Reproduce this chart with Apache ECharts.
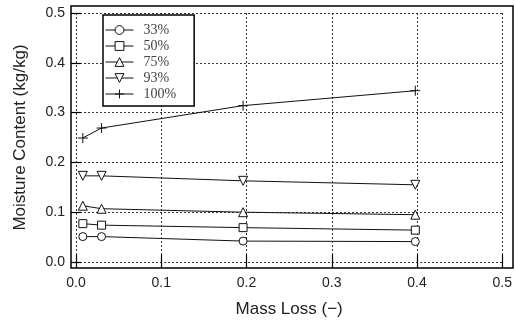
<!DOCTYPE html>
<html>
<head>
<meta charset="utf-8">
<script src="https://cdn.jsdelivr.net/npm/echarts@6/dist/echarts.min.js"></script>
<style>
  html, body { margin: 0; padding: 0; background: #fff; }
  #chart { width: 515px; height: 325px; }
</style>
</head>
<body>
<div id="chart"></div>
<script>
// values
var massLoss = [0.008, 0.030, 0.196, 0.398];
var names = ['33%', '50%', '75%', '93%', '100%'];
var rh33 = [0.051, 0.051, 0.042, 0.041];
var rh50 = [0.077, 0.074, 0.069, 0.064];
var rh75 = [0.113, 0.107, 0.100, 0.095];
var rh93 = [0.173, 0.173, 0.163, 0.155];
var rh100 = [0.249, 0.269, 0.314, 0.344];
var xTicks = [0, 0.5, 0.1];
var yTicks = [0, 0.5, 0.1];

var symbols = [
  'circle',
  'rect',
  'triangle',
  'path://M0,0 L10,0 L5,9 Z',
  'path://M0,5 L10,5 M5,0 L5,10'
];
var sizes = [8, 8, 9, 9, 10];

var chart = echarts.init(document.getElementById('chart'));

function pairs(vals) {
  return vals.map(function (v, i) { return [massLoss[i], v]; });
}

var font = '"Liberation Sans", Arial, sans-serif';
var dashed = { show: true, lineStyle: { color: '#000', width: 0.8, type: [2, 2] } };

var series = [rh33, rh50, rh75, rh93, rh100].map(function (vals, i) {
  return {
    name: names[i],
    type: 'line',
    xAxisIndex: 1,
    yAxisIndex: 1,
    data: pairs(vals),
    symbol: symbols[i],
    symbolSize: sizes[i],
    showSymbol: true,
    lineStyle: { color: '#111', width: 1 },
    itemStyle: { color: '#fff', borderColor: '#111', borderWidth: 1 },
    animation: false,
    z: 3
  };
});

chart.setOption({
  backgroundColor: '#fff',
  grid: [
    { left: 71, right: 2, top: 6, bottom: 57, show: true, borderColor: '#000', borderWidth: 1.5, backgroundColor: 'transparent', z: 4 },
    { left: 76, right: 7, top: 13, bottom: 63 }
  ],
  legend: {
    data: names,
    orient: 'vertical',
    left: 103,
    top: 15,
    padding: [8, 18, 5, 2],
    itemWidth: 28,
    itemHeight: 11,
    itemGap: 2,
    backgroundColor: '#fff',
    borderColor: '#000',
    borderWidth: 1.5,
    borderRadius: 0,
    z: 10,
    lineStyle: { width: 1 },
    itemStyle: { borderWidth: 1 },
    textStyle: { fontFamily: '"Liberation Serif", "Times New Roman", serif', fontSize: 14, color: '#444', padding: [0, 0, 0, 5] }
  },
  xAxis: [
    { gridIndex: 0, type: 'value', min: 0, max: 1, show: false },
    {
      gridIndex: 1, type: 'value', position: 'bottom',
      min: xTicks[0], max: xTicks[1], interval: xTicks[2],
      name: 'Mass Loss (\u2212)', nameLocation: 'middle', nameGap: 39,
      nameTextStyle: { fontFamily: font, fontSize: 17, color: '#222' },
      axisLine: { show: false },
      axisTick: { show: true, inside: false, length: 6, lineStyle: { color: '#000', width: 1.2 } },
      axisLabel: { margin: 14, fontFamily: font, fontSize: 14, color: '#222', formatter: function (v) { return v.toFixed(1); } },
      splitLine: dashed
    },
    {
      gridIndex: 1, type: 'value', position: 'top',
      min: xTicks[0], max: xTicks[1], interval: xTicks[2],
      axisLine: { show: false },
      axisTick: { show: true, inside: false, length: 7, lineStyle: { color: '#000', width: 1.2 } },
      axisLabel: { show: false },
      splitLine: { show: false }
    }
  ],
  yAxis: [
    { gridIndex: 0, type: 'value', min: 0, max: 1, show: false },
    {
      gridIndex: 1, type: 'value', position: 'left',
      min: yTicks[0], max: yTicks[1], interval: yTicks[2],
      name: 'Moisture Content (kg/kg)', nameLocation: 'middle', nameGap: 47,
      nameTextStyle: { fontFamily: font, fontSize: 17, color: '#222' },
      axisLine: { show: false },
      axisTick: { show: true, inside: false, length: 5, lineStyle: { color: '#000', width: 1.2 } },
      axisLabel: { margin: 11, fontFamily: font, fontSize: 14, color: '#222', formatter: function (v) { return v.toFixed(1); } },
      splitLine: dashed
    },
    {
      gridIndex: 1, type: 'value', position: 'right',
      min: yTicks[0], max: yTicks[1], interval: yTicks[2],
      axisLine: { show: false },
      axisTick: { show: true, inside: false, length: 5, lineStyle: { color: '#000', width: 1.2 } },
      axisLabel: { show: false },
      splitLine: { show: false }
    }
  ],
  series: series
});
</script>
</body>
</html>
